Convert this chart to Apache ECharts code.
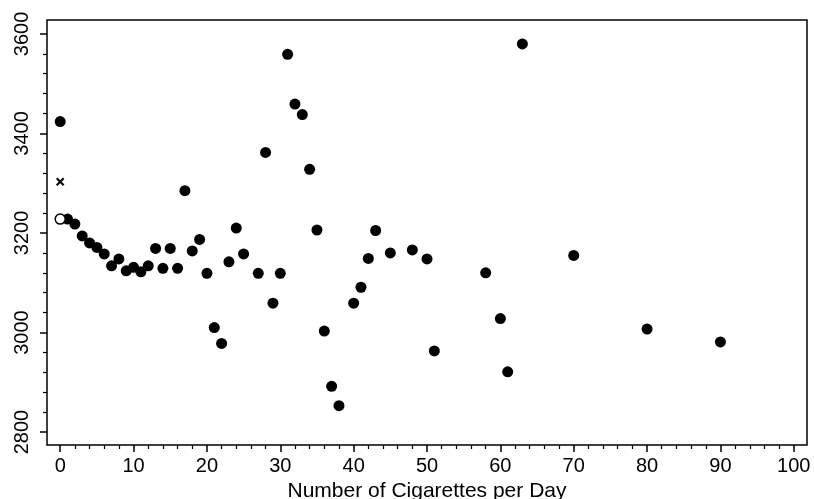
<!DOCTYPE html>
<html>
<head>
<meta charset="utf-8">
<title>Birth weight vs cigarettes</title>
<script src="https://cdn.jsdelivr.net/npm/echarts@6/dist/echarts.min.js"></script>
<style>
  html, body { margin: 0; padding: 0; background: #fff; }
  #chart { width: 814px; height: 499px; }
</style>
</head>
<body>
<div id="chart"></div>
<script>
// cigarettes per day and mean value for each group (filled dots)
var cigs = [0, 1, 2, 3, 4, 5, 6, 7, 8, 9, 10, 11, 12, 13, 14, 15, 16, 17, 18, 19, 20,
            21, 22, 23, 24, 25, 27, 28, 29, 30, 31, 32, 33, 34, 35, 36, 37, 38,
            40, 41, 42, 43, 45, 48, 50, 51, 58, 60, 61, 63, 70, 80, 90];
var weights = [3424, 3228, 3218, 3194, 3180, 3171, 3158, 3134, 3148, 3124, 3131, 3122, 3134, 3169, 3129, 3169, 3129, 3285, 3164, 3187, 3119,
               3010, 2978, 3142, 3210, 3158, 3119, 3362, 3059, 3119, 3559, 3459, 3438, 3328, 3206, 3003, 2892, 2853,
               3059, 3091, 3149, 3205, 3160, 3166, 3148, 2963, 3120, 3028, 2921, 3580, 3155, 3007, 2981];

// open circle and cross at zero
var openX = [0];
var openY = [3228];
var crossX = [0];
var crossY = [3303];

// ticks
var xTicks = [0, 10, 20, 30, 40, 50, 60, 70, 80, 90, 100];
var xMinor = [2, 4, 6, 8, 12, 14, 16, 18, 22, 24, 26, 28, 32, 34, 36, 38, 42, 44, 46, 48,
              52, 54, 56, 58, 62, 64, 66, 68, 72, 74, 76, 78, 82, 84, 86, 88, 92, 94, 96, 98];
var yTicks = [2800, 3000, 3200, 3400, 3600];
var yMinor = [2840, 2880, 2920, 2960, 3040, 3080, 3120, 3160, 3240, 3280, 3320, 3360,
              3440, 3480, 3520, 3560];

function pairs(xs, ys) {
    var out = [];
    for (var i = 0; i < xs.length; i++) {
        out.push([xs[i], ys[i]]);
    }
    return out;
}

var font = 'Liberation Sans, Arial, sans-serif';
var xMin = -1.8, xMax = 101.8;
var yMin = 2774, yMax = 3628;

// plain numbers, no thousands separator
function plain(v) { return String(v); }

var chart = echarts.init(document.getElementById('chart'));

var option = {
    animation: false,
    grid: {
        show: true,
        left: 47,
        right: 7,
        top: 20,
        bottom: 54,
        outerBoundsMode: 'none',   // keep the plot box where it is
        borderColor: '#000',
        borderWidth: 1.5,
        backgroundColor: '#fff'
    },
    xAxis: [{
        type: 'value',
        position: 'bottom',
        min: xMin,
        max: xMax,
        name: 'Number of Cigarettes per Day',
        nameLocation: 'middle',
        nameGap: 35,
        nameTextStyle: { fontSize: 21, color: '#000', fontFamily: font },
        axisLine: { show: false, onZero: false },
        splitLine: { show: false },
        axisTick: { show: true, customValues: xTicks, length: 7, lineStyle: { color: '#000', width: 1.5 } },
        axisLabel: { customValues: xTicks, formatter: plain, fontSize: 20, color: '#000', fontFamily: font, margin: 11 }
    }, {
        type: 'value',
        position: 'bottom',
        min: xMin,
        max: xMax,
        axisLine: { show: false, onZero: false },
        splitLine: { show: false },
        axisTick: { show: true, customValues: xMinor, length: 4, lineStyle: { color: '#000', width: 1.2 } },
        axisLabel: { show: false }
    }],
    yAxis: [{
        type: 'value',
        position: 'left',
        min: yMin,
        max: yMax,
        axisLine: { show: false, onZero: false },
        splitLine: { show: false },
        axisTick: { show: true, customValues: yTicks, length: 7, lineStyle: { color: '#000', width: 1.5 } },
        axisLabel: { customValues: yTicks, formatter: plain, rotate: 90, fontSize: 20, color: '#000', fontFamily: font, margin: 15 }
    }, {
        type: 'value',
        position: 'left',
        min: yMin,
        max: yMax,
        axisLine: { show: false, onZero: false },
        splitLine: { show: false },
        axisTick: { show: true, customValues: yMinor, length: 4, lineStyle: { color: '#000', width: 1.2 } },
        axisLabel: { show: false }
    }],
    series: [{
        type: 'scatter',
        xAxisIndex: 0,
        yAxisIndex: 0,
        symbol: 'circle',
        symbolSize: 11,
        itemStyle: { color: '#000', opacity: 1 },
        data: pairs(cigs, weights)
    }, {
        type: 'scatter',
        xAxisIndex: 0,
        yAxisIndex: 0,
        symbol: 'circle',
        symbolSize: 10,
        itemStyle: { color: '#fff', borderColor: '#000', borderWidth: 1.5, opacity: 1 },
        z: 3,
        data: pairs(openX, openY)
    }, {
        type: 'scatter',
        xAxisIndex: 0,
        yAxisIndex: 0,
        symbol: 'path://M0,0L10,10M10,0L0,10',
        symbolSize: 7,
        itemStyle: { color: 'none', borderColor: '#000', borderWidth: 2, opacity: 1 },
        data: pairs(crossX, crossY)
    }]
};

chart.setOption(option);

window.onresize = function () {
    chart.resize();
};
</script>
</body>
</html>
